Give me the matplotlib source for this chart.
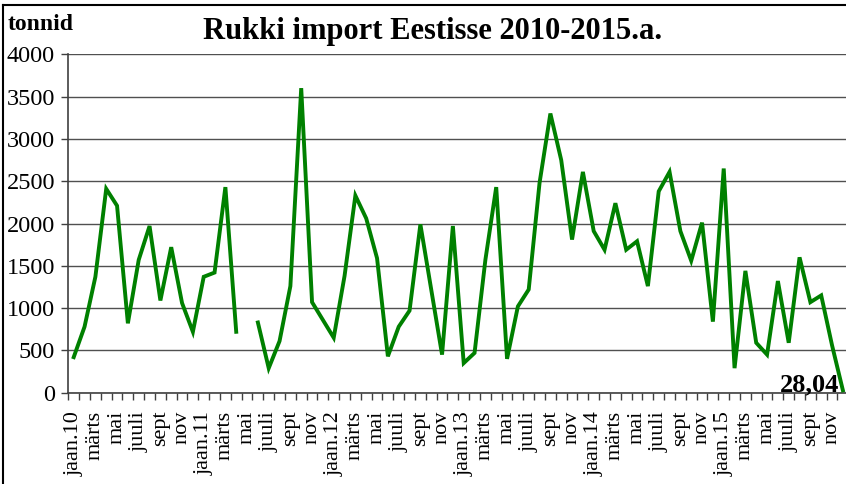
import matplotlib; matplotlib.use("Agg")
import matplotlib.pyplot as plt
import numpy as np
from matplotlib.lines import Line2D

plt.rcParams["font.family"] = ["Liberation Serif", "DejaVu Serif"]

# monthly rye import, tonnes, jan 2010 .. dec 2015 (mai 2011 missing)
months = ["jaan.10", "veebr", "märts", "apr", "mai", "juuni", "juuli", "aug", "sept", "okt", "nov", "dets",
          "jaan.11", "veebr", "märts", "apr", "mai", "juuni", "juuli", "aug", "sept", "okt", "nov", "dets",
          "jaan.12", "veebr", "märts", "apr", "mai", "juuni", "juuli", "aug", "sept", "okt", "nov", "dets",
          "jaan.13", "veebr", "märts", "apr", "mai", "juuni", "juuli", "aug", "sept", "okt", "nov", "dets",
          "jaan.14", "veebr", "märts", "apr", "mai", "juuni", "juuli", "aug", "sept", "okt", "nov", "dets",
          "jaan.15", "veebr", "märts", "apr", "mai", "juuni", "juuli", "aug", "sept", "okt", "nov", "dets"]
y2010 = [420, 780, 1370, 2410, 2210, 820, 1570, 1970, 1090, 1720, 1060, 720]
y2011 = [1370, 1420, 2430, 720, np.nan, 830, 290, 610, 1260, 3600, 1070, 860]
y2012 = [650, 1380, 2330, 2060, 1590, 430, 780, 970, 1990, 1220, 450, 1970]
y2013 = [350, 470, 1570, 2430, 400, 1020, 1220, 2480, 3300, 2750, 1810, 2610]
y2014 = [1910, 1690, 2240, 1690, 1790, 1260, 2380, 2610, 1910, 1560, 2010, 840]
y2015 = [2650, 290, 1440, 590, 450, 1320, 590, 1600, 1070, 1150, 560, 28.04]
values = y2010 + y2011 + y2012 + y2013 + y2014 + y2015
last_label = "28,04"

fig = plt.figure(figsize=(8.46, 4.84), dpi=100)
ax = fig.add_axes([68.3/846, 91.3/484, 780/846, 338.4/484])
x = np.arange(len(values))
ax.plot(x, values, color="#008000", lw=2.8, solid_joinstyle="miter", zorder=3, clip_on=False)

ax.set_xlim(-0.5, len(values) - 0.5)
ax.set_ylim(0, 4000)
ax.set_yticks(range(0, 4001, 500))
ax.yaxis.grid(True, color="#505050", lw=1)
ax.set_axisbelow(True)
ax.tick_params(axis="y", labelsize=17.5, direction="out", length=5, width=1, color="#404040", pad=4.5)

ax.set_xticks(np.arange(-0.5, len(values), 1), minor=True)
ax.set_xticks(x[::2])
ax.set_xticklabels(months[::2], rotation=90, fontsize=16)
ax.tick_params(axis="x", which="major", length=0, pad=13)
ax.tick_params(axis="x", which="minor", direction="out", length=5, width=1, color="#404040")

for s in ["top", "right"]:
    ax.spines[s].set_visible(False)
for s in ["left", "bottom"]:
    ax.spines[s].set_color("#404040")
    ax.spines[s].set_linewidth(1.2)

ax.text(70.7, 12, last_label, ha="right", va="baseline", fontsize=19, fontweight="bold", zorder=4)

fig.text(0.511, 0.935, "Rukki import Eestisse 2010-2015.a.", ha="center", va="center",
         fontsize=22, fontweight="bold")
fig.text(8/846, 1 - 24/484, "tonnid", ha="left", va="center", fontsize=17, fontweight="bold")

# outer frame (right and bottom cropped off in original)
fig.add_artist(Line2D([3/846, 3/846], [0, 1 - 5/484], transform=fig.transFigure, color="black", lw=1.5))
fig.add_artist(Line2D([3/846, 1], [1 - 5/484, 1 - 5/484], transform=fig.transFigure, color="black", lw=1.5))

fig.savefig("out.png", dpi=100)
